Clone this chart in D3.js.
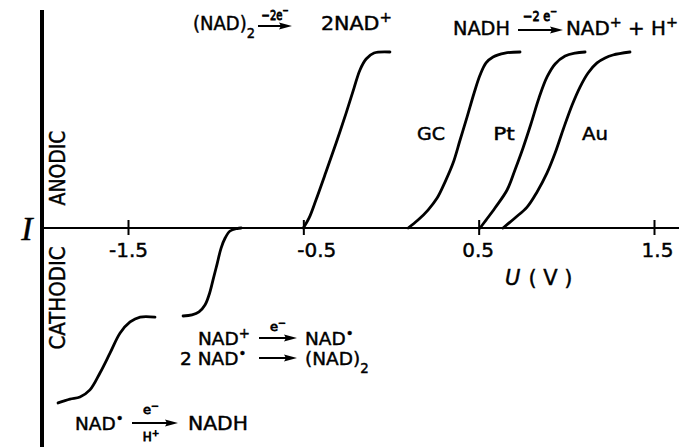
<!DOCTYPE html>
<html>
<head>
<meta charset="utf-8">
<script src="https://cdn.jsdelivr.net/npm/d3@7/dist/d3.min.js"></script>
<style>
  html, body { margin: 0; padding: 0; background: #fff; }
  svg { display: block; }
  text { font-family: "DejaVu Sans", sans-serif; fill: #000; stroke: #000; stroke-width: 0.45px; }
</style>
</head>
<body>
<svg id="chart" width="679" height="447"></svg>
<script>
// ---- data (U in volts, I in relative units; anodic plateau = 1) ----
const uTicks = [-1.5, -0.5, 0.5, 1.5];
const uTickLabels = ["-1.5", "-0.5", "0.5", "1.5"];

const nad2U = [-0.50, -0.467, -0.428, -0.371, -0.313, -0.256, -0.211, -0.177, -0.142, -0.097, -0.006];
const nad2I = [0, 0.057, 0.159, 0.318, 0.483, 0.653, 0.795, 0.898, 0.960, 0.994, 1.0];

const gcU = [0.098, 0.154, 0.211, 0.263, 0.308, 0.354, 0.394, 0.434, 0.474, 0.508, 0.542, 0.582, 0.650, 0.736];
const gcI = [0, 0.045, 0.102, 0.170, 0.261, 0.369, 0.500, 0.631, 0.767, 0.869, 0.938, 0.972, 0.994, 1.0];

const ptU = [0.508, 0.542, 0.593, 0.662, 0.707, 0.753, 0.798, 0.844, 0.890, 0.936, 0.993, 1.050, 1.107];
const ptI = [0, 0.045, 0.114, 0.216, 0.330, 0.455, 0.591, 0.739, 0.858, 0.932, 0.977, 0.994, 1.0];

const auU = [0.639, 0.707, 0.776, 0.833, 0.890, 0.936, 0.981, 1.033, 1.078, 1.124, 1.175, 1.221, 1.266, 1.363];
const auI = [0, 0.057, 0.119, 0.205, 0.313, 0.426, 0.557, 0.699, 0.801, 0.881, 0.938, 0.966, 0.983, 1.0];

const cathAU = [-1.186, -1.135, -1.095, -1.061, -1.038, -1.015, -0.992, -0.969, -0.946, -0.918, -0.878, -0.855];
const cathAI = [-0.5, -0.494, -0.477, -0.438, -0.381, -0.295, -0.205, -0.114, -0.057, -0.017, -0.003, 0];

const cathBU = [-1.899, -1.831, -1.774, -1.717, -1.660, -1.602, -1.545, -1.488, -1.431, -1.346];
const cathBI = [-0.994, -0.972, -0.960, -0.920, -0.824, -0.710, -0.597, -0.534, -0.506, -0.506];

const curveNames = ["GC", "Pt", "Au"];

// ---- drawing ----
const W = 679, H = 447;
const svg = d3.select("#chart");
const x = d3.scaleLinear().domain([-1.5, 1.5]).range([128, 654]);
const y = d3.scaleLinear().domain([0, 1]).range([228, 52]);
const axisX = 42;

function pts(us, is) { return us.map((u, k) => ({u: u, i: is[k]})); }
const line = d3.line().x(d => x(d.u)).y(d => y(d.i)).curve(d3.curveCatmullRom.alpha(0.5));

// vertical (current) axis
svg.append("line")
  .attr("x1", axisX).attr("x2", axisX).attr("y1", 10).attr("y2", H)
  .attr("stroke", "#000").attr("stroke-width", 4);

// horizontal (potential) axis
svg.append("line")
  .attr("x1", axisX).attr("x2", W).attr("y1", y(0)).attr("y2", y(0))
  .attr("stroke", "#000").attr("stroke-width", 2);

const tickNudge = [0, 13, -1, 3]; // hand-lettered label offsets
const gx = svg.append("g").attr("transform", `translate(0,${y(0)})`)
  .call(d3.axisBottom(x).tickValues(uTicks).tickFormat((d, k) => uTickLabels[k]).tickSize(0));
gx.select(".domain").remove();
gx.selectAll(".tick line").attr("y1", -8).attr("y2", 7).attr("stroke", "#000").attr("stroke-width", 2);
gx.selectAll(".tick text").attr("y", 29).attr("dy", 0).attr("dx", (d, k) => tickNudge[k])
  .style("font-family", "DejaVu Sans, sans-serif").style("font-size", "20px")
  .attr("fill", "#000").attr("stroke", "#000").attr("stroke-width", 0.45);

// curves
const curves = [
  pts(nad2U, nad2I), pts(gcU, gcI), pts(ptU, ptI), pts(auU, auI),
  pts(cathAU, cathAI), pts(cathBU, cathBI)
];
svg.append("g").selectAll("path").data(curves).join("path")
  .attr("d", line)
  .attr("fill", "none").attr("stroke", "#000").attr("stroke-width", 2.8)
  .attr("stroke-linecap", "round").attr("stroke-linejoin", "round");

// helper: text with sup/sub parts, optionally squeezed/stretched horizontally to a target width
function txt(xx, yy, size, parts, anchor, width, sw) {
  const g = svg.append("g");
  const t = g.append("text").attr("x", xx).attr("y", yy).style("font-size", size + "px")
    .attr("text-anchor", anchor || "start");
  if (sw) t.style("stroke-width", sw + "px");
  parts.forEach(p => {
    const s = t.append("tspan").text(p[0]);
    if (p[1] === "sup") s.attr("baseline-shift", "super").style("font-size", (size * 0.72) + "px");
    if (p[1] === "sub") s.attr("baseline-shift", "sub").style("font-size", (size * 0.72) + "px");
  });
  if (width) {
    const bb = t.node().getBBox();
    const k = width / bb.width;
    g.attr("transform", `translate(${xx},0) scale(${k},1) translate(${-xx},0)`);
  }
  return t;
}
function arrow(x1, x2, yy) {
  svg.append("line").attr("x1", x1).attr("x2", x2 - 8).attr("y1", yy).attr("y2", yy)
    .attr("stroke", "#000").attr("stroke-width", 2);
  svg.append("path").attr("d", `M${x2},${yy} L${x2 - 13},${yy - 3.5} L${x2 - 11},${yy} L${x2 - 13},${yy + 3.5} Z`).attr("fill", "#000");
}

// curve labels
const nameX = [431, 504, 595], nameW = [28, 22, 26];
curveNames.forEach((n, k) => txt(nameX[k], 140, 17, [[n]], "middle", nameW[k]));

// axis labels
svg.append("text").attr("x", 27).attr("y", 240).attr("text-anchor", "middle")
  .style("font-family", "Liberation Serif, serif").style("font-style", "italic")
  .style("font-size", "34px").text("I");

const ul = svg.append("text").attr("x", 505).attr("y", 285).style("font-size", "21px");
ul.append("tspan").style("font-style", "italic").text("U");
ul.append("tspan").attr("dx", 8).text("( V )");

function vlabel(cy, len, s) {
  const g = svg.append("g").attr("transform", `translate(65,${cy}) rotate(-90)`);
  const t = g.append("text").attr("x", 0).attr("y", 0).attr("text-anchor", "middle")
    .style("font-size", "22px").text(s);
  const k = len / t.node().getBBox().width;
  t.attr("transform", `scale(${k},1)`);
}
vlabel(168, 75, "ANODIC");
vlabel(298, 103, "CATHODIC");

// ---- equations ----
// (NAD)2 -2e- 2NAD+
txt(193, 30, 19, [["(NAD)"], ["2", "sub"]], "start", 62);
arrow(258, 292, 26);
txt(275, 20, 14, [["−2"], ["e"], ["−", "sup"]], "middle", 27, 0.9);
txt(321, 30, 19, [["2NAD"], ["+", "sup"]], "start", 71);

// NADH -2e- NAD+ + H+
txt(453, 35, 19.5, [["NADH"]], "start", 57);
arrow(518, 563, 30);
txt(540, 21, 14, [["−2 e"], ["−", "sup"]], "middle", 34, 0.9);
txt(566, 35, 19.5, [["NAD"], ["+", "sup"], [" + H"], ["+", "sup"]], "start", 112);

// NAD+ e- NAD.
txt(198, 345, 18.5, [["NAD"], ["+", "sup"]]);
arrow(259, 297, 338);
txt(278, 331, 13, [["e"], ["−", "sup"]], "middle", null, 0.8);
txt(305, 345, 18.5, [["NAD"], ["•", "sup"]]);

// 2NAD. -> (NAD)2
txt(180, 365, 18.5, [["2 NAD"], ["•", "sup"]]);
arrow(259, 297, 358);
txt(305, 365, 18.5, [["(NAD)"], ["2", "sub"]]);

// NAD. e-/H+ NADH
txt(75, 430, 18.5, [["NAD"], ["•", "sup"]]);
arrow(132, 178, 423);
txt(151, 414, 13, [["e"], ["−", "sup"]], "middle", null, 0.8);
txt(151, 441, 12, [["H"], ["+", "sup"]], "middle", null, 0.8);
txt(188, 430, 19, [["NADH"]], "start", 60);
</script>
</body>
</html>
